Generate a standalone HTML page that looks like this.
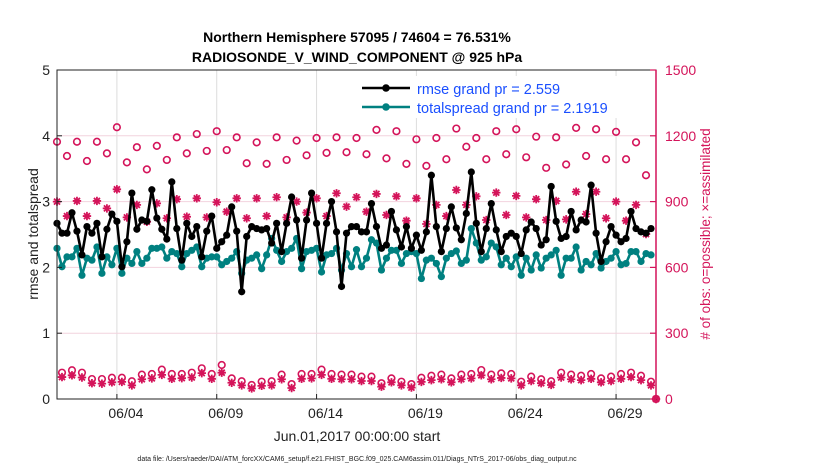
<!DOCTYPE html>
<html><head><meta charset="utf-8"><style>
body{margin:0;background:#fff;}
svg{display:block;font-family:"Liberation Sans",sans-serif;}
</style></head><body>
<svg id="chart" width="830" height="470" viewBox="0 0 830 470">
<rect width="830" height="470" fill="#fff"/>
<text x="357" y="42" text-anchor="middle" font-size="14" font-weight="bold">Northern Hemisphere 57095 / 74604 = 76.531%</text>
<text x="357" y="62" text-anchor="middle" font-size="14" font-weight="bold">RADIOSONDE_V_WIND_COMPONENT @ 925 hPa</text>
<g id="grid"></g>
<g id="marks"></g>
<rect x="57" y="70" width="599" height="329" fill="none" stroke="#222" stroke-width="1"/>
<line x1="656" y1="70" x2="656" y2="399" stroke="#d4145a" stroke-width="1.5"/>
<g id="axes"></g>
<text transform="translate(38,234) rotate(-90)" text-anchor="middle" font-size="14" fill="#222">rmse and totalspread</text>
<text transform="translate(710,234) rotate(-90)" text-anchor="middle" font-size="13.5" fill="#d4145a"># of obs: o=possible; ×=assimilated</text>
<text x="357" y="441" text-anchor="middle" font-size="14" fill="#222">Jun.01,2017 00:00:00 start</text>
<text x="357" y="461" text-anchor="middle" font-size="7" fill="#222">data file: /Users/raeder/DAI/ATM_forcXX/CAM6_setup/f.e21.FHIST_BGC.f09_025.CAM6assim.011/Diags_NTrS_2017-06/obs_diag_output.nc</text>
<g>
<rect x="358" y="76" width="290" height="42" fill="#fff"/>
<line x1="362" y1="88" x2="410" y2="88" stroke="#000" stroke-width="2.5"/>
<circle cx="386" cy="88" r="3.8" fill="#000"/>
<text x="417" y="94" font-size="14.5" fill="#1a4fff">rmse grand pr = 2.559</text>
<line x1="362" y1="107" x2="410" y2="107" stroke="#008080" stroke-width="2.5"/>
<circle cx="386" cy="107" r="3.8" fill="#008080"/>
<text x="417" y="113" font-size="14.5" fill="#1a4fff">totalspread grand pr = 2.1919</text>
</g>
</svg>
<script>
const xTickLabels = ["06/04","06/09","06/14","06/19","06/24","06/29"];
const xTickDays = [3,8,13,18,23,28];
const yLeftTicks = [0,1,2,3,4,5];
const yRightTicks = [0,300,600,900,1200,1500];
const rmse = [2.67,2.52,2.52,2.83,2.55,2.19,2.62,2.52,2.67,2.16,2.58,2.81,2.70,2.01,2.39,3.13,2.58,2.72,2.70,3.18,
2.75,2.58,2.43,3.30,2.59,2.11,2.67,2.47,2.62,2.16,2.55,2.78,2.29,2.39,2.49,2.92,2.55,1.63,2.47,2.62,
2.59,2.57,2.59,2.37,2.67,2.24,2.67,3.07,2.72,2.14,2.72,3.13,2.67,2.14,2.67,3.00,2.54,1.71,2.52,2.62,
2.62,2.54,2.54,2.97,2.62,2.29,2.34,2.85,2.57,2.31,2.62,2.29,2.49,2.26,2.54,3.40,2.62,2.24,2.59,2.92,
2.60,2.42,2.82,3.45,2.67,2.24,2.59,2.97,2.57,2.24,2.47,2.52,2.47,2.21,2.57,2.69,2.59,2.34,2.42,3.23,
2.70,2.44,2.47,2.85,2.57,2.72,2.69,3.25,2.52,2.09,2.39,2.62,2.49,2.39,2.44,2.85,2.59,2.54,2.52,2.59];
const spread = [2.29,2.01,2.16,2.16,2.29,1.88,2.14,2.11,2.31,1.91,2.16,2.04,2.29,1.91,2.14,2.06,2.24,2.06,2.14,2.29,
2.29,2.31,2.14,2.24,2.21,2.01,2.21,2.26,2.31,2.01,2.14,2.16,2.16,2.04,2.09,2.14,2.24,1.91,2.11,2.14,
2.19,1.98,2.19,2.44,2.26,2.09,2.24,2.29,2.44,1.98,2.24,2.26,2.29,1.93,2.19,2.21,2.29,1.96,2.21,2.01,
2.27,2.01,2.14,2.42,2.37,1.96,2.14,2.26,2.26,2.06,2.21,2.24,2.21,1.83,2.11,2.14,2.06,1.86,2.14,2.21,
2.25,2.06,2.11,2.59,2.37,2.11,2.16,2.37,2.31,2.04,2.14,2.01,2.16,1.88,2.14,1.96,2.19,1.99,2.14,2.19,
2.26,1.88,2.14,2.14,2.31,1.96,2.09,2.04,2.21,1.99,2.09,2.14,2.24,2.04,2.06,2.24,2.24,2.09,2.21,2.19];
const obsPossible = [1173,120,1108,131,1173,120,1085,91,1173,91,1120,97,1239,97,1079,81,1148,111,1047,114,
1154,134,1090,114,1193,114,1120,120,1208,140,1131,114,1221,155,1135,94,1193,81,1075,64,
1170,79,1072,81,1193,111,1090,68,1178,114,1111,114,1190,134,1122,114,1193,111,1125,111,
1190,102,1116,102,1227,72,1097,94,1221,79,1072,68,1184,97,1063,106,1190,111,1093,94,
1233,111,1150,114,1190,132,1093,111,1221,117,1116,114,1230,79,1102,102,1196,90,1054,81,
1193,120,1069,111,1236,106,1108,114,1230,94,1093,102,1218,114,1093,120,1170,106,1020,79,0];
const obsAssim = [900,100,834,108,903,98,834,72,903,70,869,76,956,78,828,62,885,90,808,94,
892,110,824,92,911,95,831,98,915,118,828,92,897,120,854,74,915,62,824,48,
915,60,834,62,920,90,828,50,900,92,850,94,915,110,834,92,938,90,877,90,
920,82,854,82,935,56,839,76,924,62,813,52,915,78,798,86,885,90,834,76,
953,90,885,94,924,108,816,90,941,96,839,94,926,62,828,82,911,72,816,64,
903,98,819,90,945,86,843,92,945,76,824,82,900,92,813,100,885,86,752,62,0];

const NS="http://www.w3.org/2000/svg";
const X0=57,X1=656,Y0=399,Y1=70;
const xDay = d => X0 + (X1-X0)*d/30;
const xIdx = i => xDay(i*0.25);
const yL = v => Y0 - (Y0-Y1)*v/5;
const yR = v => Y0 - (Y0-Y1)*v/1500;
const crim="#d4145a";
function mk(tag, attrs, parent){const e=document.createElementNS(NS,tag);for(const k in attrs)e.setAttribute(k,attrs[k]);parent.appendChild(e);return e;}
const grid=document.getElementById('grid'), marks=document.getElementById('marks'), axes=document.getElementById('axes');

xTickDays.forEach((d,k)=>{
  const x=xDay(d);
  const g=mk('line',{x1:x,y1:Y1,x2:x,y2:Y0,stroke:'#dcdcdc','stroke-width':1},grid);
  
  
  const t=mk('line',{x1:x,y1:Y0,x2:x,y2:Y0-5,stroke:'#222'},axes);
  
  
  const tx=mk('text',{x:x+9,y:Y0+19,'text-anchor':'middle','font-size':14,fill:'#222'},axes);
  tx.textContent=xTickLabels[k];
  
  
});
yRightTicks.forEach(v=>{
  const y=yR(v);
  if(v>0&&v<1500){
    const g=mk('line',{x1:X0,y1:y,x2:X1,y2:y,stroke:'#f2d3de','stroke-width':1},grid);
    
    
  }
  const t=mk('line',{x1:X1,y1:y,x2:X1-6,y2:y,stroke:crim,'stroke-width':1.2},axes);
  
  
  const tx=mk('text',{x:X1+9,y:y+5,'font-size':14,fill:crim},axes);
  tx.textContent=v;
  
  
});
yLeftTicks.forEach(v=>{
  const y=yL(v);
  const t=mk('line',{x1:X0,y1:y,x2:X0+5,y2:y,stroke:'#222'},axes);
  
  
  const tx=mk('text',{x:X0-7,y:y+5,'text-anchor':'end','font-size':14,fill:'#222'},axes);
  tx.textContent=v;
  
  
});

obsPossible.forEach((v,i)=>{
  const c=mk('circle',{cx:xIdx(i),cy:yR(v),r:3.3,fill:'none',stroke:crim,'stroke-width':1.6},marks);
  
  
});
obsAssim.forEach((v,i)=>{
  const x=xIdx(i), y=yR(v), s=4.2, d=3;
  const p=mk('path',{d:`M${x-s},${y}H${x+s}M${x},${y-s}V${y+s}M${x-d},${y-d}L${x+d},${y+d}M${x-d},${y+d}L${x+d},${y-d}`,stroke:crim,'stroke-width':1.8},marks);
  
  
});
function series(arr,color,name){
  const pl=mk('polyline',{points:arr.map((v,i)=>xIdx(i)+','+yL(v)).join(' '),fill:'none',stroke:color,'stroke-width':2.6,'stroke-linejoin':'round'},marks);
  
  
  arr.forEach((v,i)=>{
    const c=mk('circle',{cx:xIdx(i),cy:yL(v),r:3.6,fill:color},marks);
    
    
  });
}
series(spread,'#008080','totalspread');
series(rmse,'#000','rmse');
</script>
</body></html>
